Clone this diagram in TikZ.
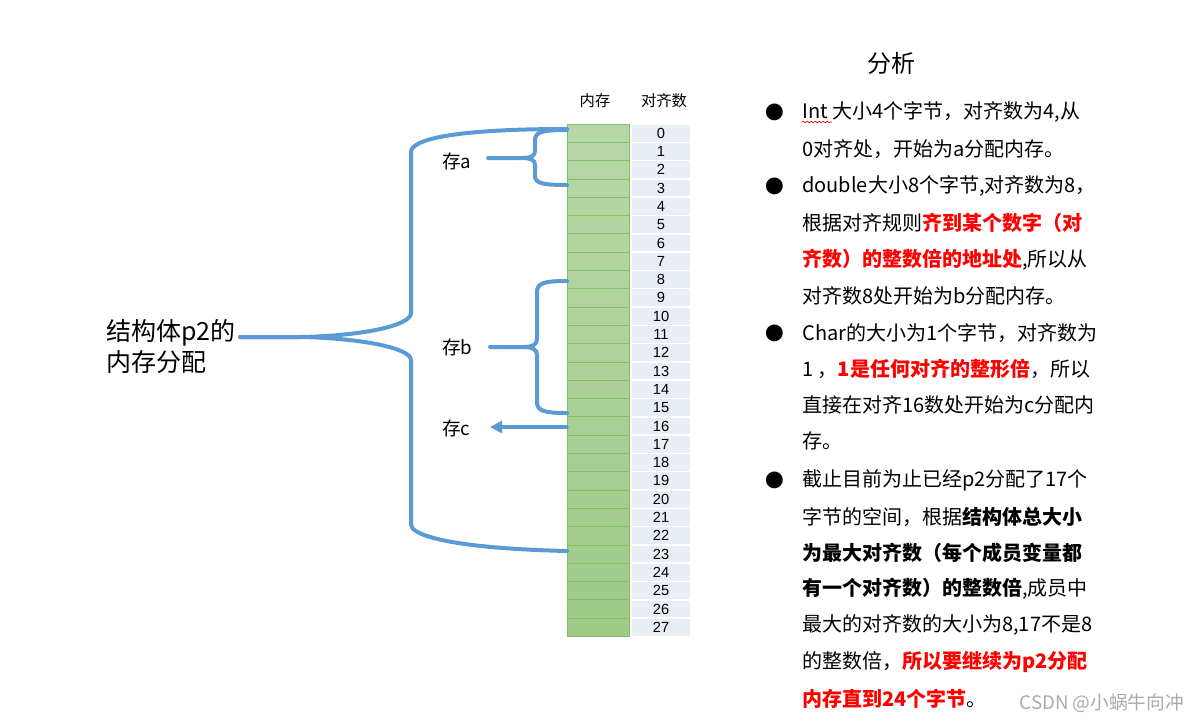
\documentclass[tikz,border=0pt]{standalone}
\usepackage{fontspec}
\setmainfont{Noto Sans CJK SC}
\newfontfamily\numfont{Liberation Sans}
\usetikzlibrary{arrows.meta,decorations.pathmorphing}
\definecolor{lineblue}{RGB}{91,155,213}
\definecolor{cellgreenT}{RGB}{183,215,168}
\definecolor{cellgreenB}{RGB}{158,202,136}
\definecolor{gridgreen}{RGB}{130,192,98}
\definecolor{idxfill}{RGB}{233,237,244}
\definecolor{wmgray}{RGB}{170,170,170}
\newcommand\redb[1]{\textcolor{red}{\bfseries #1}}
\tikzset{
  brace/.style={draw=lineblue, line width=3pt, line cap=round, line join=round},
  memcell/.style={draw=gridgreen, line width=0.5pt, minimum width=46.5pt, minimum height=13.725pt, inner sep=0pt},
  idxcell/.style={fill=idxfill, minimum width=44pt, minimum height=12.6pt, inner sep=0pt, font=\numfont\fontsize{11}{12}\selectfont},
  rtext/.style={anchor=west, inner sep=0pt, font=\fontsize{15}{18}\selectfont},
  bul/.style={inner sep=0pt, font=\fontsize{14}{15}\selectfont},
  hdr/.style={inner sep=0pt, font=\fontsize{11.5}{13}\selectfont},
  cun/.style={anchor=west, inner sep=0pt, font=\fontsize{14}{16}\selectfont},
}
\begin{document}
\begin{tikzpicture}[x=0.75pt,y=-0.75pt]
\useasboundingbox (0,0) rectangle (1198,722);
\fill[white] (0,0) rectangle (1198,722);

% memory column
\shade[top color=cellgreenT, bottom color=cellgreenB] (567,124) rectangle (629,636.4);
\foreach \i in {0,...,27} {
  \pgfmathsetmacro\yc{124+18.3*\i+9.15}
  \node[memcell] (m\i) at (598,\yc) {};
  \node[idxcell] (n\i) at (661,\yc) {\i};
}
\node[hdr] (hmem) at (595,101) {内存};
\node[hdr] (hidx) at (664,101) {对齐数};

% left label
\node[anchor=west, inner sep=0pt, align=left, font=\fontsize{18.75}{23.25}\selectfont] (lbl) at (106,346) {结构体p2的\\内存分配};
\coordinate (bigtip) at (240,337);
\coordinate (bigtop) at (567,129);
\coordinate (bigbot) at (567,551);
\draw[brace] (bigtop) .. controls (450,129) and (411,140) .. (411,152) -- (411,313) .. controls (411,326) and (360,336) .. (300,337) -- (bigtip);
\draw[brace] (bigbot) .. controls (440,548) and (411,533) .. (411,525) -- (411,360) .. controls (411,348) and (360,338) .. (300,337) -- (bigtip);

% brace a
\node[cun] (la) at (442,161) {存a};
\coordinate (atop) at (567,130);
\coordinate (abot) at (567,185);
\coordinate (atip) at (488,158);
\draw[brace] (atop) .. controls (542,130) and (535,132) .. (535,140) -- (535,151) .. controls (535,156) and (531,158) .. (522,158) -- (atip);
\draw[brace] (abot) .. controls (542,185) and (535,183) .. (535,176) -- (535,165) .. controls (535,160) and (531,158) .. (522,158);

% brace b
\node[cun] (lb) at (442,347) {存b};
\coordinate (btop) at (567,281);
\coordinate (bbot) at (567,413);
\coordinate (btip) at (490,347);
\draw[brace] (btop) .. controls (544,281) and (537,283) .. (537,292) -- (537,339) .. controls (537,345) and (532,347) .. (524,347) -- (btip);
\draw[brace] (bbot) .. controls (544,413) and (537,411) .. (537,402) -- (537,355) .. controls (537,349) and (532,347) .. (524,347);

% arrow c
\node[cun] (lc) at (442,428) {存c};
\coordinate (ctip) at (490,427);
\draw[brace, -{Triangle[length=9pt,width=9pt]}] (m16.west |- ctip) -- (ctip);

% right side
\node[inner sep=0pt, font=\fontsize{18}{20}\selectfont] (title) at (891,63) {分析};

\node[bul] (b1) at (775,112) {●};
\node[bul] (b2) at (775,186) {●};
\node[bul] (b3) at (775,333) {●};
\node[bul] (b4) at (775,480) {●};

\node[rtext] (t1) at (802,112) {Int 大小4个字节，对齐数为4,从};
\node[rtext] (t2) at (802,149) {0对齐处，开始为a分配内存。};
\node[rtext] (t3) at (802,186) {double大小8个字节,对齐数为8，};
\node[rtext] (t4) at (802,223) {根据对齐规则\redb{齐到某个数字（对}};
\node[rtext] (t5) at (802,260) {\redb{齐数）的整数倍的地址处},所以从};
\node[rtext] (t6) at (802,296) {对齐数8处开始为b分配内存。};
\node[rtext] (t7) at (802,333) {Char的大小为1个字节，对齐数为};
\node[rtext] (t8) at (802,369) {1 ，\redb{1是任何对齐的整形倍}，所以};
\node[rtext] (t9) at (802,405) {直接在对齐16数处开始为c分配内};
\node[rtext] (t10) at (802,441) {存。};
\node[rtext] (t11) at (802,480) {截止目前为止已经p2分配了17个};
\node[rtext] (t12) at (802,517) {字节的空间，根据\textbf{结构体总大小}};
\node[rtext] (t13) at (802,553) {\textbf{为最大对齐数（每个成员变量都}};
\node[rtext] (t14) at (802,589) {\textbf{有一个对齐数）的整数倍},成员中};
\node[rtext] (t15) at (802,625) {最大的对齐数的大小为8,17不是8};
\node[rtext] (t16) at (802,662) {的整数倍，\redb{所以要继续为p2分配}};
\node[rtext] (t17) at (802,699) {\redb{内存直到24个字节}。};

\draw[red, line width=0.5pt, decorate, decoration={snake, amplitude=0.6pt, segment length=3pt}] (802,122) -- (832,122);

\node[anchor=east, inner sep=0pt, text=wmgray, font=\fontsize{14}{16}\selectfont] (wm) at (1184,703) {CSDN @小蜗牛向冲};
\end{tikzpicture}
\end{document}
